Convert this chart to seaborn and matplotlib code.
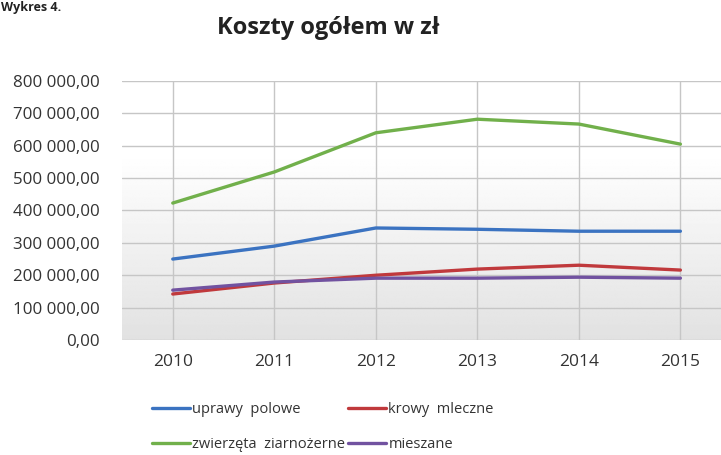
import numpy as np
import pandas as pd
import matplotlib
matplotlib.use("Agg")
import matplotlib.pyplot as plt
import seaborn as sns
from matplotlib.ticker import FuncFormatter
from matplotlib.lines import Line2D
from matplotlib import font_manager

years = ["2010", "2011", "2012", "2013", "2014", "2015"]
uprawy_polowe = [250000, 290000, 346000, 342000, 336000, 336000]
krowy_mleczne = [142000, 176000, 200000, 219000, 231000, 216000]
zwierzeta = [423000, 519000, 640000, 682000, 667000, 605000]
mieszane = [154000, 179000, 191000, 191000, 194000, 191000]

series_names = ["uprawy  polowe", "krowy  mleczne", "zwierzęta  ziarnożerne", "mieszane"]
series_vals = [uprawy_polowe, krowy_mleczne, zwierzeta, mieszane]
colors = ["#3b73c1", "#c0393c", "#71b04b", "#7152a0"]

rows = []
for name, vals in zip(series_names, series_vals):
    for i, (y, v) in enumerate(zip(years, vals)):
        rows.append({"idx": i, "year": y, "value": v, "series": name})
df = pd.DataFrame(rows)

sns.set_theme(style="white")
plt.rcParams["font.family"] = ["Open Sans", "DejaVu Sans"]

names = {f.name for f in font_manager.fontManager.ttflist}
narrow = "Liberation Sans Narrow" if "Liberation Sans Narrow" in names else None

fig = plt.figure(figsize=(7.21, 4.55), dpi=100)
ax = fig.add_axes([122 / 721, 1 - 340 / 455, (721 - 122) / 721, (340 - 81) / 455])

# background gradient: white at top, light gray at bottom (vertical)
yy = np.linspace(1, 0, 200)  # row 0 = top
shade = np.clip(yy / 0.72, 0, 1)
g = 0.885 + 0.115 * shade
grad = np.repeat(g[:, None], 4, axis=1)
ax.imshow(grad, extent=[-0.5, 5.4, 0, 800000], aspect="auto", zorder=0,
          origin="upper", cmap="gray", vmin=0, vmax=1, interpolation="bilinear")

sns.lineplot(data=df, x="idx", y="value", hue="series", hue_order=series_names,
             palette=colors, linewidth=2.4, ax=ax, legend=False, zorder=3)

ax.set_xlim(-0.5, 5.4)
ax.set_ylim(0, 800000)
ax.set_yticks(np.arange(0, 800001, 100000))
ax.set_xticks(range(len(years)))
ax.set_xticklabels(years)
ax.yaxis.set_major_formatter(FuncFormatter(
    lambda v, p: f"{v:,.2f}".replace(",", " ").replace(".", ",")))
ax.grid(True, axis="both", color="#c6c6c6", linewidth=1.0, zorder=1)
ax.set_axisbelow(True)
for s in ax.spines.values():
    s.set_visible(False)
ax.set_xlabel("")
ax.set_ylabel("")
ax.tick_params(axis="y", labelsize=12.2, colors="#333333", pad=16, length=0)
ax.tick_params(axis="x", labelsize=12.5, colors="#333333", pad=10, length=0)

fig.text(328 / 721, 1 - 28 / 455, "Koszty ogółem w zł", ha="center", va="center",
         fontsize=17, fontweight="bold", color="#222222")
fig.text(0.002, 0.998, "Wykres 4.", ha="left", va="top", fontsize=9,
         fontweight="bold", color="#222222")

order = [0, 2, 1, 3]
handles = [Line2D([], [], color=colors[i], linewidth=2.4) for i in order]
labels = [series_names[i] for i in order]
if narrow:
    lprop = {"family": [narrow, "DejaVu Sans"], "size": 12.4}
else:
    lprop = {"family": ["Open Sans", "DejaVu Sans"], "size": 10.5}
leg = fig.legend(handles, labels, ncol=2, loc="center left",
                 bbox_to_anchor=(139 / 721, 1 - 427 / 455), frameon=False,
                 prop=lprop, handlelength=2.6, handletextpad=0.15,
                 columnspacing=0.2, labelspacing=1.35, labelcolor="#333333")

fig.savefig("out.png", dpi=100)
